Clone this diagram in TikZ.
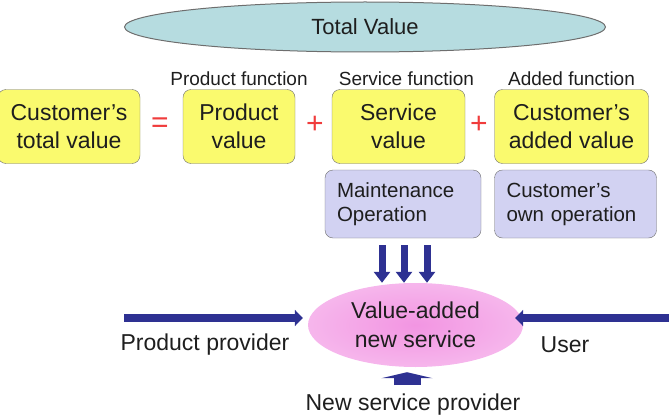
\documentclass[tikz,border=0pt]{standalone}
\usepackage{fontspec}
\setmainfont{Liberation Sans}
\usepackage{tikz}
\usetikzlibrary{positioning, arrows.meta, shapes.geometric}
\definecolor{valueblue}{HTML}{B6DCE0}
\definecolor{boxyellow}{HTML}{FAFA6E}
\definecolor{opslilac}{HTML}{D2D2F2}
\definecolor{flownavy}{HTML}{2E3192}
\definecolor{signred}{HTML}{F03C3C}
\definecolor{edgegray}{HTML}{6E6E6E}
\definecolor{pinkcore}{HTML}{F295E2}
\definecolor{pinkmid}{HTML}{F6B6EC}
\definecolor{pinkrim}{HTML}{FBD8F4}
\definecolor{inktext}{HTML}{1E1E1E}
\pgfdeclareradialshading{vaglow}{\pgfpoint{0bp}{0bp}}{color(0bp)=(pinkcore); color(25bp)=(pinkmid); color(50bp)=(pinkrim)}

\begin{document}
\begin{tikzpicture}[
  x=1pt, y=-1pt,
  every node/.style={text=inktext},
  valuebox/.style={
    draw=edgegray,
    fill=boxyellow,
    rounded corners=8pt,
    minimum height=74pt,
    align=center,
    inner sep=0pt,
    font=\fontsize{23}{28}\selectfont,
  },
  opsbox/.style={
    draw=edgegray,
    fill=opslilac,
    rounded corners=8pt,
    minimum height=68pt,
    align=left,
    inner xsep=12pt,
    font=\fontsize{20.5}{24}\selectfont,
  },
  funclabel/.style={
    font=\fontsize{19}{22}\selectfont,
  },
  rolelabel/.style={
    font=\fontsize{23}{28}\selectfont,
  },
  opsign/.style={
    font=\fontsize{30}{32}\selectfont,
    text=signred,
  },
  downflow/.style={
    draw=flownavy,
    line width=7pt,
    -{Triangle[width=16pt, length=11pt]},
  },
  sideflow/.style={
    draw=flownavy,
    line width=8pt,
    -{Triangle[width=16pt, length=8pt]},
  },
  upflow/.style={
    draw=flownavy,
    line width=27pt,
    -{Triangle[width=51pt, length=6pt]},
  },
]
  \useasboundingbox (0,0) rectangle (669,420);

  \node[ellipse, draw=edgegray, line width=1pt, fill=valueblue,
        minimum width=481pt, minimum height=50pt,
        font=\fontsize{22}{26}\selectfont] (total) at (365,27) {Total Value};

  \node[valuebox, minimum width=142pt] (custval) at (69,126.5) {Customer’s\\total value};
  \node[valuebox, minimum width=112pt] (prodval) at (239,126.5) {Product\\value};
  \node[valuebox, minimum width=133pt] (servval) at (398.5,126.5) {Service\\value};
  \node[valuebox, minimum width=154pt] (addval) at (571.5,126.5) {Customer’s\\added value};

  \node[funclabel, above=0pt of prodval] (prodfn) {Product function};
  \node[funclabel, above=0pt of servval, xshift=8pt] (servfn) {Service function};
  \node[funclabel, above=0pt of addval] (addfn) {Added function};

  \node[opsign] (eqsign) at (160,125) {=};
  \node[opsign] (plusa) at (315,125) {+};
  \node[opsign] (plusb) at (479,125) {+};

  \node[opsbox, text width=132pt] (maint) at (403,204) {Maintenance\\Operation};
  \node[opsbox, text width=138pt] (ownop) at (575.5,204) {Customer’s\\own operation};

  \node[ellipse, shading=vaglow, minimum width=215pt, minimum height=84pt,
        inner sep=0pt, align=center,
        font=\fontsize{23}{29}\selectfont] (vans) at (415.5,325) {Value-added\\new service};

  % arrows into the new service
  \foreach \dx in {-21,1,24}
    \draw[downflow] ([xshift=\dx pt, yshift=-7pt]maint.south) -- ([xshift=\dx pt]maint.south |- vans.north);

  \coordinate (provstart) at (124,318);
  \coordinate (userstart) at (672,318);
  \coordinate (upbase) at (407,385);
  \draw[sideflow] (provstart) -- ([xshift=-5pt]vans.west |- provstart);
  \draw[sideflow] (userstart) -- ([xshift=-8pt]vans.east |- userstart);
  \draw[upflow] (upbase) -- ([yshift=-5pt]vans.south -| upbase);

  \node[rolelabel] (prodprov) at (205,345) {Product provider};
  \node[rolelabel] (user) at (565,345) {User};
  \node[rolelabel] (newprov) at (413,405) {New service provider};
\end{tikzpicture}
\end{document}
